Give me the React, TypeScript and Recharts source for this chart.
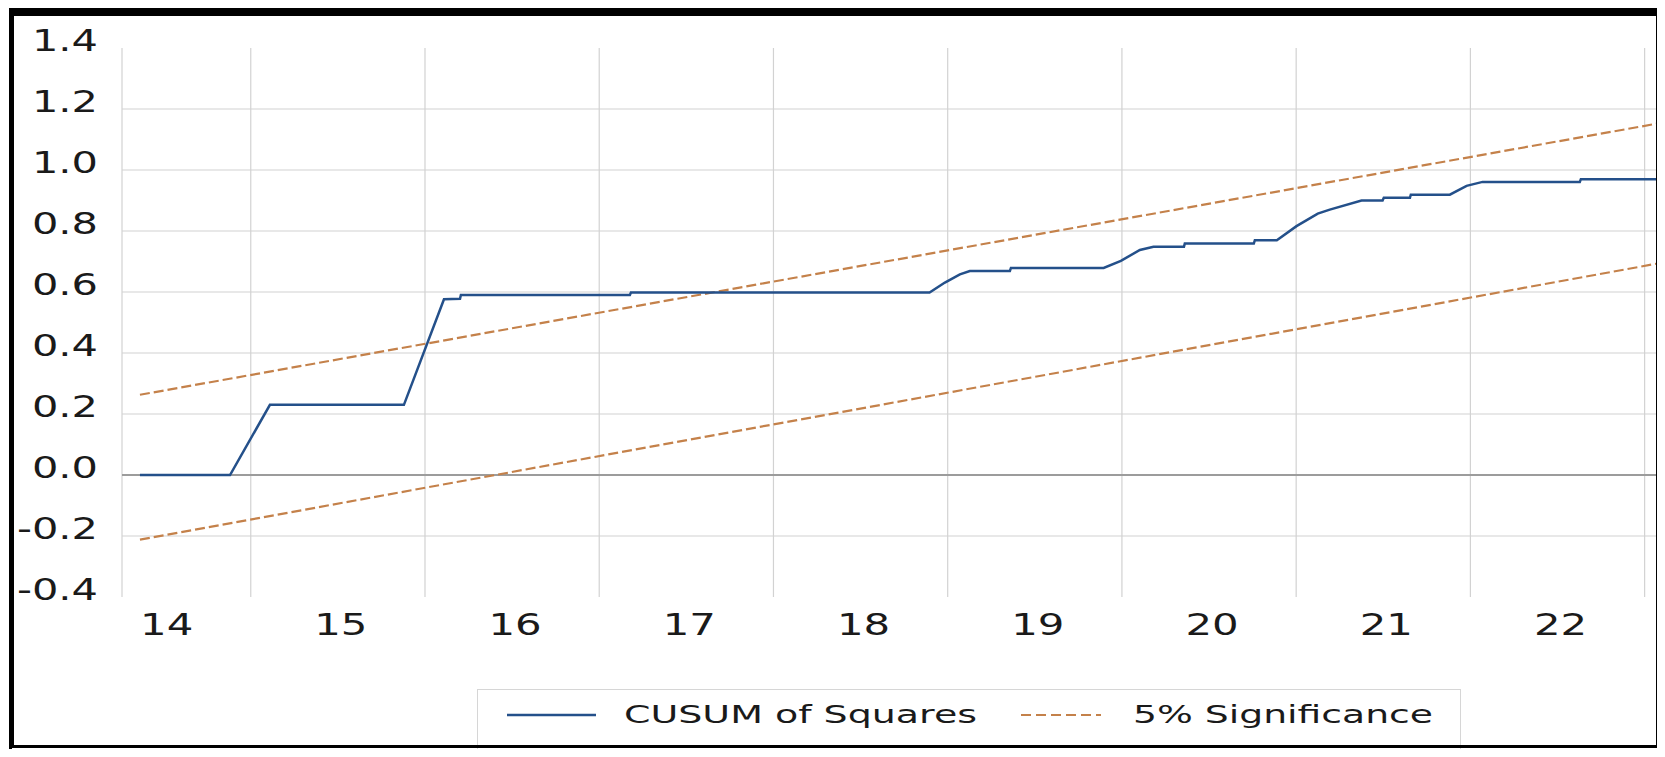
import { LineChart, Line, XAxis, YAxis, CartesianGrid, ReferenceLine } from 'recharts';

// time in fractional years (monthly-ish sample)
const cusumTime = [
  2014.364, 2014.881, 2015.11, 2015.879, 2016.109, 2016.201, 2016.206, 2017.176, 2017.182,
  2018.896, 2018.984, 2019.07, 2019.127, 2019.357, 2019.363, 2019.895, 2019.994, 2020.103,
  2020.181, 2020.356, 2020.361, 2020.757, 2020.763, 2020.889, 2021.002, 2021.124, 2021.193,
  2021.375, 2021.496, 2021.503, 2021.653, 2021.658, 2021.882, 2021.978, 2022.07, 2022.628,
  2022.634, 2023.071,
];
const cusumValues = [
  0, 0, 0.23, 0.23, 0.576, 0.578, 0.59, 0.59, 0.598,
  0.598, 0.631, 0.658, 0.669, 0.669, 0.679, 0.679, 0.702, 0.738,
  0.748, 0.748, 0.759, 0.759, 0.77, 0.77, 0.816, 0.857, 0.87,
  0.9, 0.9, 0.909, 0.909, 0.919, 0.919, 0.948, 0.961, 0.961,
  0.97, 0.97,
];

const bandTime = [2014.364, 2023.071];
const upperValues = [0.263, 1.152];
const lowerValues = [-0.212, 0.693];

const yearLabels = ['14', '15', '16', '17', '18', '19', '20', '21', '22'];
const labelTicks = [2014.5, 2015.5, 2016.5, 2017.5, 2018.5, 2019.5, 2020.5, 2021.5, 2022.5];
const yearBounds = [2015, 2016, 2017, 2018, 2019, 2020, 2021, 2022, 2023];
const yTicks = [-0.4, -0.2, 0, 0.2, 0.4, 0.6, 0.8, 1.0, 1.2, 1.4];
const gridValues = [-0.2, 0.2, 0.4, 0.6, 0.8, 1.0, 1.2];

const xDomain = [2014.261, 2023.071];
const yDomain = [-0.4, 1.4];

const BLUE = '#24508a';
const ORANGE = '#c4814a';
const GRID = '#d2d2d2';
const FONT = '"DejaVu Sans", Verdana, sans-serif';

const cusumData = cusumTime.map((t, i) => ({ t, v: cusumValues[i] }));
const upperData = bandTime.map((t, i) => ({ t, v: upperValues[i] }));
const lowerData = bandTime.map((t, i) => ({ t, v: lowerValues[i] }));

function YTick({ x, y, payload }: any) {
  return (
    <g transform={`translate(${x - 24},${y + 3})`}>
      <text textAnchor="end" transform="scale(1.34,1)" fontSize={31} fill="#1a1a1a" fontFamily={FONT}>
        {Number(payload.value).toFixed(1)}
      </text>
    </g>
  );
}

function XTick({ x, y, payload }: any) {
  const label = yearLabels[labelTicks.indexOf(payload.value)];
  return (
    <g transform={`translate(${x + 3},${y + 38})`}>
      <text textAnchor="middle" transform="scale(1.35,1)" fontSize={31} fill="#1a1a1a" fontFamily={FONT}>
        {label}
      </text>
    </g>
  );
}

function LegendBox() {
  return (
    <svg
      width={1665}
      height={757}
      style={{ position: 'absolute', left: 0, top: 0, pointerEvents: 'none' }}
    >
      <rect x={477.5} y={689.5} width={983} height={60} fill="none" stroke="#d6d6d6" strokeWidth={1} />
      <line x1={507} y1={715} x2={596} y2={715} stroke={BLUE} strokeWidth={2.5} />
      <text x={624} y={723} fontSize={24} fontFamily={FONT} fill="#1a1a1a" textLength={353} lengthAdjust="spacingAndGlyphs">
        CUSUM of Squares
      </text>
      <line x1={1021} y1={715} x2={1101} y2={715} stroke={ORANGE} strokeWidth={2.2} strokeDasharray="10 5" />
      <text x={1133} y={723} fontSize={24} fontFamily={FONT} fill="#1a1a1a" textLength={300} lengthAdjust="spacingAndGlyphs">
        5% Significance
      </text>
    </svg>
  );
}

export default function App() {
  return (
    <div style={{ position: 'relative', width: 1649, height: 741 }}>
      <div style={{ position: 'absolute', left: -8, top: -8, width: 1665, height: 757, background: '#fff' }}>
        <LineChart width={1665} height={757} margin={{ top: 48, right: 8, left: 0, bottom: 100 }}>
          <XAxis xAxisId="grid" dataKey="t" type="number" domain={xDomain} ticks={yearBounds} hide allowDataOverflow />
          <CartesianGrid xAxisId="grid" horizontal={false} stroke={GRID} strokeWidth={1.2} />
          <XAxis
            dataKey="t"
            type="number"
            domain={xDomain}
            ticks={labelTicks}
            allowDataOverflow
            axisLine={false}
            tickLine={false}
            tickSize={0}
            tickMargin={0}
            height={60}
            interval={0}
            tick={<XTick />}
          />
          <YAxis
            type="number"
            domain={yDomain}
            ticks={yTicks}
            allowDataOverflow
            axisLine={false}
            tickLine={false}
            tickSize={0}
            tickMargin={0}
            width={122}
            interval={0}
            tick={<YTick />}
          />
          {gridValues.map((v) => (
            <ReferenceLine key={v} y={v} stroke={GRID} strokeWidth={1.2} />
          ))}
          <ReferenceLine y={0} stroke="#9c9c9c" strokeWidth={2} />
          <Line data={upperData} dataKey="v" stroke={ORANGE} strokeWidth={2.2} strokeDasharray="10 4" dot={false} isAnimationActive={false} />
          <Line data={lowerData} dataKey="v" stroke={ORANGE} strokeWidth={2.2} strokeDasharray="10 4" dot={false} isAnimationActive={false} />
          <Line data={cusumData} dataKey="v" stroke={BLUE} strokeWidth={2.5} dot={false} isAnimationActive={false} />
        </LineChart>
        <LegendBox />
        <div
          style={{
            position: 'absolute',
            left: 9,
            top: 7,
            width: 1652,
            height: 746,
            boxSizing: 'border-box',
            borderTop: '9px solid #000',
            borderLeft: '5px solid #000',
            borderRight: '5px solid #000',
            borderBottom: '8px double #000',
            pointerEvents: 'none',
          }}
        />
      </div>
    </div>
  );
}
